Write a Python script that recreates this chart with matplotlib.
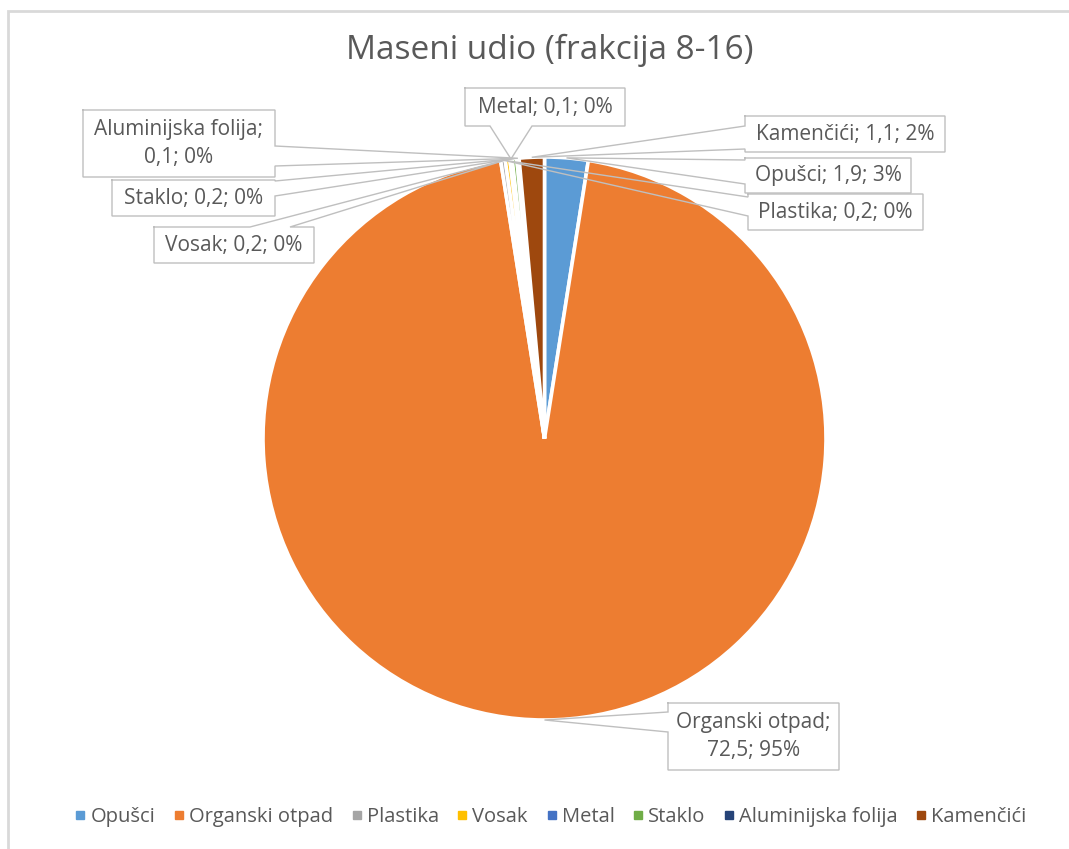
import matplotlib
matplotlib.use("Agg")
import matplotlib.pyplot as plt
import numpy as np
from matplotlib.lines import Line2D

# ---------------- data ----------------
categories = ["Opušci", "Organski otpad", "Plastika", "Vosak", "Metal",
              "Staklo", "Aluminijska folija", "Kamenčići"]
values = [1.9, 72.5, 0.2, 0.2, 0.1, 0.2, 0.1, 1.1]
value_labels = ["1,9", "72,5", "0,2", "0,2", "0,1", "0,2", "0,1", "1,1"]
percent_labels = ["3%", "95%", "0%", "0%", "0%", "0%", "0%", "2%"]
colors = ["#5B9BD5", "#ED7D31", "#A5A5A5", "#FFC000", "#4472C4",
          "#70AD47", "#264478", "#9E480E"]
title = "Maseni udio (frakcija 8-16)"

# ---------------- layout ----------------
W, H = 1069, 849
FONT = "Open Sans"
TXT = "#595959"
plt.rcParams["font.family"] = [FONT, "DejaVu Sans"]

fig = plt.figure(figsize=(W / 100, H / 100), dpi=100)
ax = fig.add_axes([0, 0, 1, 1])

def Y(y):  # pixel (top-down) -> data
    return H - y

cx, cy, R = 544.5, 438.5, 281.5
wedges, _ = ax.pie(values, colors=colors, startangle=90, counterclock=False,
                   center=(cx, Y(cy)), radius=R, frame=True,
                   wedgeprops=dict(edgecolor="white", linewidth=2.6))
ax.set_xlim(0, W)
ax.set_ylim(0, H)
ax.set_aspect("equal")
ax.axis("off")

# anchor points (rim mid-point of each slice)
total = sum(values)
cum = np.cumsum([0] + values)
anchors = []
for i in range(len(values)):
    frac = (cum[i] + cum[i + 1]) / 2 / total
    ang = 2 * np.pi * frac
    anchors.append((cx + R * np.sin(ang), cy - R * np.cos(ang)))

# callout boxes: (x0, y0, x1, y1), edge, base0, base1   (pixel coords)
boxes = {
    "Opušci": ((745, 158, 911, 193), "left", 160, 184),
    "Organski otpad": ((668, 703, 839, 770), "left", 712, 732),
    "Plastika": ((748, 194, 923, 230), "left", 197, 216),
    "Vosak": ((154, 227, 314, 263), "top", 250, 290),
    "Metal": ((465, 88, 625, 126), "bottom", 490, 532),
    "Staklo": ((112, 180, 275, 216), "right", 181, 196),
    "Aluminijska folija": ((83, 110, 275, 177), "right", 146, 166),
    "Kamenčići": ((745, 116, 945, 152), "left", 126, 149),
}
label_text = {
    "Organski otpad": "Organski otpad;\n72,5; 95%",
    "Aluminijska folija": "Aluminijska folija;\n0,1; 0%",
}

for i, cat in enumerate(categories):
    (x0, y0, x1, y1), edge, b0, b1 = boxes[cat]
    apex = anchors[i]
    pts = [(x0, y0)]
    if edge == "top":
        pts += [(b0, y0), apex, (b1, y0)]
    pts += [(x1, y0)]
    if edge == "right":
        pts += [(x1, b0), apex, (x1, b1)]
    pts += [(x1, y1)]
    if edge == "bottom":
        pts += [(b1, y1), apex, (b0, y1)]
    pts += [(x0, y1)]
    if edge == "left":
        pts += [(x0, b1), apex, (x0, b0)]
    pts += [(x0, y0)]
    ax.add_patch(plt.Rectangle((x0, Y(y1)), x1 - x0, y1 - y0,
                               facecolor="white", edgecolor="none", zorder=5))
    xs = [p[0] for p in pts]
    ys = [Y(p[1]) for p in pts]
    ax.plot(xs, ys, color="#BFBFBF", lw=1.0, zorder=6, solid_joinstyle="miter")
    txt = label_text.get(cat, f"{cat}; {value_labels[i]}; {percent_labels[i]}")
    ax.text((x0 + x1) / 2, Y((y0 + y1) / 2), txt, ha="center", va="center",
            fontsize=15, color=TXT, zorder=7, linespacing=1.4)

# title
ax.text(550, Y(50), title, ha="center", va="center", fontsize=24, color=TXT)

# frame lines (top and left)
ax.plot([8, 8, W], [0, Y(11), Y(11)], color="#D9D9D9", lw=2, zorder=10,
        solid_joinstyle="miter")

# legend
handles = [Line2D([], [], marker="s", linestyle="", markersize=6,
                  markerfacecolor=c, markeredgecolor=c) for c in colors]
fig.legend(handles, categories, loc="center", bbox_to_anchor=(549 / W, 1 - 817 / H),
           ncol=8, frameon=False, fontsize=14.5, handletextpad=0.05,
           columnspacing=0.72, labelcolor=TXT, handlelength=0.9)

fig.savefig("out.png", dpi=100)
